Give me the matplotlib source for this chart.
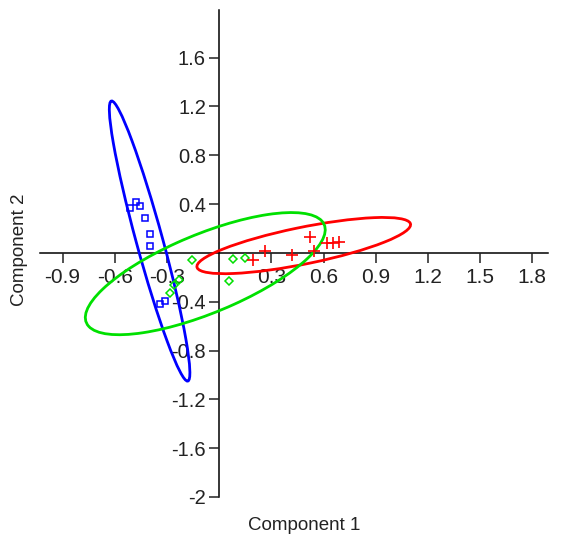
#!/usr/bin/env python3
"""PCA scatter with 95% ellipses, axes crossing at the origin."""

import matplotlib

matplotlib.use("Agg")
import matplotlib.pyplot as plt
from matplotlib.patches import Ellipse

plt.rcParams["font.family"] = ["Liberation Sans", "DejaVu Sans"]

# group scores (component 1, component 2)
blue_x = [-0.511, -0.477, -0.454, -0.425, -0.397, -0.397, -0.339, -0.310]
blue_y = [0.370, 0.415, 0.388, 0.285, 0.156, 0.058, -0.416, -0.397]

green_x = [-0.157, 0.082, 0.149, 0.054, -0.232, -0.262, -0.280]
green_y = [-0.058, -0.049, -0.044, -0.230, -0.225, -0.265, -0.330]

red_x = [0.197, 0.264, 0.418, 0.523, 0.546, 0.622, 0.653, 0.686]
red_y = [-0.058, 0.016, -0.016, 0.134, 0.016, 0.080, 0.080, 0.088]

# ellipses: center x, center y, semi-major, semi-minor, angle (deg)
blue_ell = (-0.40, 0.097, 1.168, 0.077, 100.8)
red_ell = (0.486, 0.06, 0.639, 0.148, 16.5)
green_ell = (-0.08, -0.17, 0.797, 0.301, 32.8)

x_ticks = [-0.9, -0.6, -0.3, 0.3, 0.6, 0.9, 1.2, 1.5, 1.8]
y_ticks = [-2, -1.6, -1.2, -0.8, -0.4, 0.4, 0.8, 1.2, 1.6]


def tick_text(v):
    return f"{v:g}"


def add_ellipse(ax, params, color):
    cx, cy, a, b, ang = params
    ax.add_patch(
        Ellipse((cx, cy), 2 * a, 2 * b, angle=ang, fill=False,
                edgecolor=color, linewidth=2.0, zorder=2)
    )


def main():
    fig = plt.figure(figsize=(5.65, 5.40), dpi=100)
    ax = fig.add_axes([40 / 565, 1 - 497 / 540, 508 / 565, 487 / 540])
    ax.set_xlim(-1.03, 1.89)
    ax.set_ylim(-2.0, 1.99)

    for side in ("top", "right"):
        ax.spines[side].set_visible(False)
    ax.spines["left"].set_position(("data", 0))
    ax.spines["bottom"].set_position(("data", 0))
    for side in ("left", "bottom"):
        ax.spines[side].set_linewidth(1.1)
        ax.spines[side].set_zorder(1)

    ax.set_xticks(x_ticks)
    ax.set_xticklabels([tick_text(v) for v in x_ticks])
    ax.set_yticks(y_ticks)
    ax.set_yticklabels([tick_text(v) for v in y_ticks])
    ax.tick_params(axis="x", direction="out", length=7, width=1.1, pad=4,
                   labelsize=15, colors="#222222")
    ax.tick_params(axis="y", direction="out", length=7, width=1.1, pad=2.5,
                   labelsize=14.5, colors="#222222")

    add_ellipse(ax, blue_ell, "#0000ff")
    add_ellipse(ax, red_ell, "#ff0000")
    add_ellipse(ax, green_ell, "#00e000")

    ax.plot(blue_x, blue_y, ls="none", marker="s", ms=4.5, mfc="none",
            mec="#0000ff", mew=1.1, zorder=3)
    ax.plot(green_x, green_y, ls="none", marker="D", ms=4.0, mfc="none",
            mec="#00e000", mew=1.1, zorder=3)
    ax.plot(red_x, red_y, ls="none", marker="+", ms=8, mec="#ff0000",
            mew=1.2, zorder=3)

    fig.text(304 / 565, 1 - 525 / 540, "Component 1", ha="center", va="center",
             fontsize=13.5, color="#222222")
    fig.text(20 / 565, 1 - 250 / 540, "Component 2", ha="center", va="center",
             rotation=90, fontsize=13.5, color="#222222")

    fig.savefig("out.png", dpi=100)
    plt.close(fig)


if __name__ == "__main__":
    main()
